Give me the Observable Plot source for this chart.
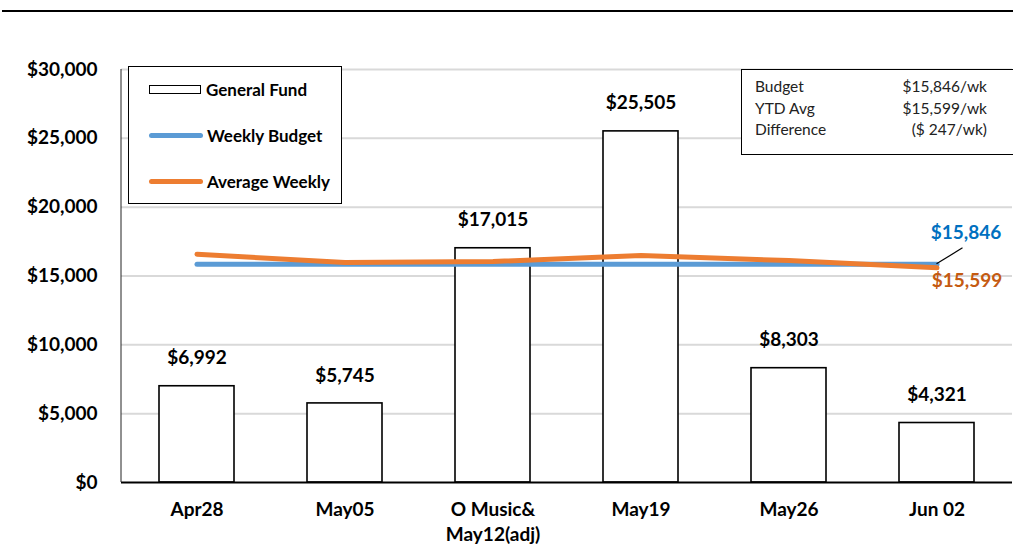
<!DOCTYPE html>
<html>
<head>
<meta charset="utf-8">
<script src="https://cdn.jsdelivr.net/npm/d3@7"></script>
<script src="https://cdn.jsdelivr.net/npm/@observablehq/plot@0.6"></script>
<style>
  html, body { margin: 0; padding: 0; background: #fff; }
  body { width: 1013px; height: 545px; position: relative; overflow: hidden; font-family: Lato, "Open Sans", sans-serif; }
  #chart { position: absolute; left: 0; top: 0; }
  .topline { position: absolute; left: 2px; top: 10px; width: 1011px; height: 2px; background: #000; }
  .legend { position: absolute; left: 128px; top: 66px; width: 212px; height: 136px; border: 1.5px solid #000; background: #fff; }
  .legend .item { position: absolute; left: 20px; display: flex; align-items: center; font-weight: 700; font-size: 17px; color: #000; }
  .legend .sw-box { width: 52px; height: 9px; border: 1.5px solid #000; box-sizing: border-box; margin-right: 5px; }
  .legend .sw-line { width: 54px; height: 5px; border-radius: 3px; margin-right: 4px; }
  .info { position: absolute; left: 741px; top: 69px; width: 290px; height: 84px; border: 1.5px solid #000; background: #fff; font-size: 15.5px; color: #222; }
  .info .row { position: absolute; left: 13px; width: 232px; display: flex; justify-content: space-between; }
</style>
</head>
<body>
<div id="chart"></div>
<script>
const categories = ["Apr28", "May05", "O Music&\nMay12(adj)", "May19", "May26", "Jun 02"];
const generalFund = [6992, 5745, 17015, 25505, 8303, 4321];
const weeklyBudget = [15846, 15846, 15846, 15846, 15846, 15846];
const averageWeekly = [16580, 15980, 16050, 16490, 16120, 15599];
const yTicks = [0, 5000, 10000, 15000, 20000, 25000, 30000];
const seriesNames = ["General Fund", "Weekly Budget", "Average Weekly"];
const infoLabels = ["Budget", "YTD Avg", "Difference"];
const infoValues = ["$15,846/wk", "$15,599/wk", "($ 247/wk)"];
const endLabels = ["$15,846", "$15,599"];

const bars = categories.map((c, i) => ({cat: c, value: generalFund[i]}));
const budget = categories.map((c, i) => ({cat: c, value: weeklyBudget[i]}));
const avg = categories.map((c, i) => ({cat: c, value: averageWeekly[i]}));
const lastCat = categories[categories.length - 1];
const fmt = d3.format("$,.0f");

const leader = (index, scales) => {
  const x0 = scales.x(lastCat) + scales.x.bandwidth() / 2;
  const y0 = scales.y(weeklyBudget[weeklyBudget.length - 1]);
  const l = document.createElementNS("http://www.w3.org/2000/svg", "line");
  l.setAttribute("x1", x0); l.setAttribute("y1", y0);
  l.setAttribute("x2", x0 + 26); l.setAttribute("y2", y0 - 16);
  l.setAttribute("stroke", "#000"); l.setAttribute("stroke-width", 1.2);
  return l;
};

const chart = Plot.plot({
  width: 1013,
  height: 545,
  marginLeft: 121,
  marginRight: 1,
  marginTop: 69,
  marginBottom: 63,
  style: {fontFamily: "Lato, 'Open Sans', sans-serif", background: "#fff", overflow: "visible"},
  x: {domain: categories, paddingInner: 0.495, paddingOuter: 0.25, label: null},
  y: {domain: [0, 30000], label: null},
  marks: [
    Plot.ruleY(yTicks.filter(d => d > 0), {stroke: "#d9d9d9", strokeWidth: 2}),
    Plot.axisY({ticks: yTicks, tickFormat: fmt, tickSize: 0, tickPadding: 24, fontSize: 19, fontWeight: 700, fill: "#000", label: null}),
    Plot.axisX({tickSize: 0, tickPadding: 16, fontSize: 19, fontWeight: 700, fill: "#000", lineHeight: 1.3, label: null}),
    Plot.barY(bars, {x: "cat", y: "value", fill: "#fff", stroke: "#000", strokeWidth: 1.6}),
    Plot.text(bars, {x: "cat", y: "value", text: d => fmt(d.value), dy: -28, fontSize: 19, fontWeight: 700, fill: "#000"}),
    Plot.lineY(budget, {x: "cat", y: "value", stroke: "#5B9BD5", strokeWidth: 5}),
    Plot.lineY(avg, {x: "cat", y: "value", stroke: "#ED7D31", strokeWidth: 5}),
    leader,
    Plot.text([weeklyBudget[weeklyBudget.length - 1]], {x: () => lastCat, y: d => d, text: () => endLabels[0], dx: 29, dy: -31, fontSize: 19, fontWeight: 700, fill: "#0070C0"}),
    Plot.text([averageWeekly[averageWeekly.length - 1]], {x: () => lastCat, y: d => d, text: () => endLabels[1], dx: 30, dy: 13, fontSize: 19, fontWeight: 700, fill: "#C55A11"}),
    Plot.ruleY([0], {stroke: "#000", strokeWidth: 2})
  ]
});

// left vertical axis line
const svgSel = d3.select(chart);
svgSel.append("line").attr("x1", 121).attr("x2", 121).attr("y1", 69).attr("y2", 482).attr("stroke", "#222").attr("stroke-width", 1);
document.getElementById("chart").appendChild(chart);

// top rule
const topRule = document.createElement("div"); topRule.className = "topline"; document.body.appendChild(topRule);

// legend
const legendBox = document.createElement("div"); legendBox.className = "legend";
const swatches = [
  {cls: "sw-box", color: null, top: 12},
  {cls: "sw-line", color: "#5B9BD5", top: 58},
  {cls: "sw-line", color: "#ED7D31", top: 104}
];
seriesNames.forEach((name, i) => {
  const it = document.createElement("div"); it.className = "item"; it.style.top = swatches[i].top + "px";
  const sw = document.createElement("div"); sw.className = swatches[i].cls;
  if (swatches[i].color) sw.style.background = swatches[i].color;
  const t = document.createElement("span"); t.textContent = name;
  it.appendChild(sw); it.appendChild(t); legendBox.appendChild(it);
});
document.body.appendChild(legendBox);

// info box
const infoBox = document.createElement("div"); infoBox.className = "info";
infoLabels.forEach((lab, i) => {
  const r = document.createElement("div"); r.className = "row"; r.style.top = (7 + i * 21.5) + "px";
  const a = document.createElement("span"); a.textContent = lab;
  const b = document.createElement("span"); b.textContent = infoValues[i];
  r.appendChild(a); r.appendChild(b); infoBox.appendChild(r);
});
document.body.appendChild(infoBox);
</script>
</body>
</html>
